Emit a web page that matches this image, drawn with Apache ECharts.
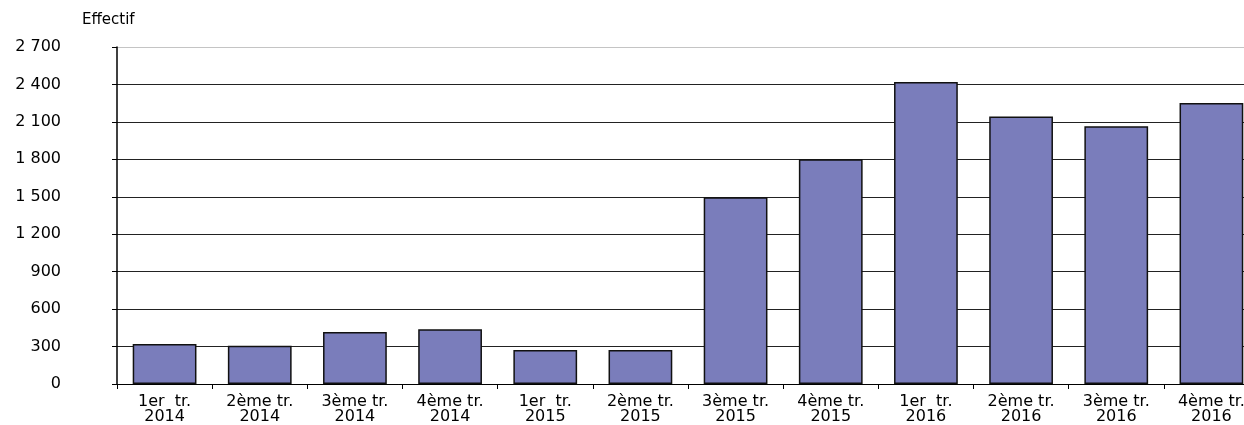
<!DOCTYPE html>
<html>
<head>
<meta charset="utf-8">
<script src="https://cdn.jsdelivr.net/npm/echarts@6/dist/echarts.min.js"></script>
<style>
html,body{margin:0;padding:0;background:#fff;}
#chart{width:1244px;height:425px;}
</style>
</head>
<body>
<div id="chart"></div>
<script>
const categories = [
  "1er  tr.\n2014", "2ème tr.\n2014", "3ème tr.\n2014", "4ème tr.\n2014",
  "1er  tr.\n2015", "2ème tr.\n2015", "3ème tr.\n2015", "4ème tr.\n2015",
  "1er  tr.\n2016", "2ème tr.\n2016", "3ème tr.\n2016", "4ème tr.\n2016"
];
const effectif = [320, 307, 417, 438, 272, 272, 1497, 1800, 2420, 2143, 2065, 2252];
const yAxisTitle = "Effectif";

const fmt = v => String(v).replace(/\B(?=(\d{3})+(?!\d))/g, ' ');
const font = "'DejaVu Sans', 'Liberation Sans', Arial, sans-serif";

const chart = echarts.init(document.getElementById('chart'), null, {renderer: 'canvas'});
chart.setOption({
  animation: false,
  backgroundColor: '#ffffff',
  title: {
    text: yAxisTitle,
    left: 82, top: 13, padding: 0,
    textStyle: {fontFamily: font, fontSize: 15, fontWeight: 'normal', color: '#000'}
  },
  grid: {left: 117, right: -15, top: 47, bottom: 41, containLabel: false, outerBoundsMode: 'none'},
  xAxis: {
    type: 'category',
    data: categories,
    axisLine: {show: true, lineStyle: {color: '#000', width: 1}},
    axisTick: {show: true, interval: 0, length: 5, inside: false, alignWithLabel: false, lineStyle: {color: '#000'}},
    axisLabel: {interval: 0, margin: 10, lineHeight: 15, fontFamily: font, fontSize: 16, color: '#000'},
    splitLine: {show: false}
  },
  yAxis: {
    type: 'value',
    min: 0, max: 2700, interval: 300,
    axisLine: {show: true, lineStyle: {color: '#000', width: 1.5}},
    axisTick: {show: true, length: 5, inside: false, lineStyle: {color: '#000'}},
    axisLabel: {margin: 56, formatter: fmt, fontFamily: font, fontSize: 16, color: '#000'},
    splitLine: {show: true, lineStyle: {color: ['#222','#222','#222','#222','#222','#222','#222','#222','#222','#c4c4c4'], width: 1}}
  },
  series: [{
    type: 'bar',
    data: effectif,
    barCategoryGap: '33%',
    itemStyle: {color: '#7a7dbb', borderColor: '#111', borderWidth: 1.5}
  }]
});
</script>
</body>
</html>
